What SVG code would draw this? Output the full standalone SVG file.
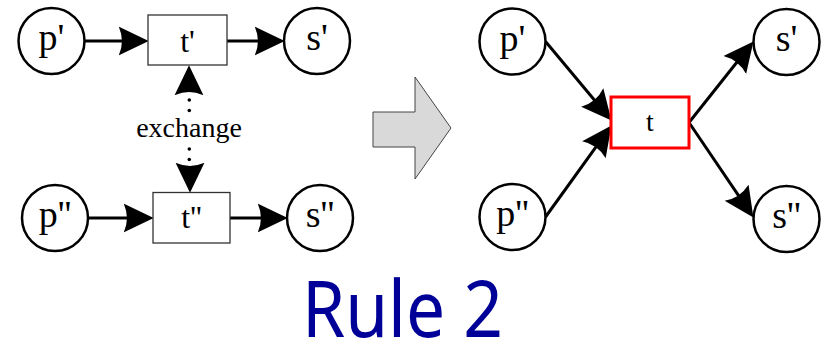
<svg xmlns="http://www.w3.org/2000/svg" width="827" height="346" viewBox="0 0 827 346">
<style>
.place{fill:#fff;stroke:#000;stroke-width:2.5}
.trans{fill:#fff;stroke:#333;stroke-width:1.3}
.transr{fill:#fff;stroke:#ff0000;stroke-width:3}
.lbl{font-family:"Liberation Serif","Times New Roman",serif;fill:#000;text-anchor:middle}
.pl{font-size:38px}
.tl{font-size:32px}
.arc{stroke:#000;stroke-width:3;fill:none}
.dot{fill:#000}
</style>
<defs>
<marker id="ah" markerUnits="userSpaceOnUse" markerWidth="30" markerHeight="30" viewBox="0 0 28 27" refX="18" refY="13.5" orient="auto">
<path d="M0,0 L28,13.5 L0,27 Q6,13.5 0,0 Z" fill="#000"/>
</marker>
</defs>
<g id="connectors">
<line class="arc" x1="84.5" y1="41" x2="138" y2="41" marker-end="url(#ah)"/>
<line class="arc" x1="227" y1="41" x2="274" y2="41" marker-end="url(#ah)"/>
<line class="arc" x1="88" y1="218" x2="143" y2="218" marker-end="url(#ah)"/>
<line class="arc" x1="230" y1="218" x2="277" y2="218" marker-end="url(#ah)"/>
<line class="arc" x1="189" y1="86" x2="189" y2="76" marker-end="url(#ah)"/>
<line class="arc" x1="190" y1="172" x2="190" y2="182" marker-end="url(#ah)"/>
<circle class="dot" cx="189.3" cy="100" r="1.8"/>
<circle class="dot" cx="189.3" cy="110.5" r="1.8"/>
<circle class="dot" cx="189.3" cy="149" r="1.8"/>
<circle class="dot" cx="189.3" cy="159.5" r="1.8"/>
<line class="arc" x1="545.5" y1="41.5" x2="604.6" y2="112.3" marker-end="url(#ah)"/>
<line class="arc" x1="545.5" y1="217" x2="605.2" y2="134.1" marker-end="url(#ah)"/>
<line class="arc" x1="689" y1="122.5" x2="746.8" y2="49.8" marker-end="url(#ah)"/>
<line class="arc" x1="689" y1="122.5" x2="747.4" y2="208.7" marker-end="url(#ah)"/>
</g>
<g id="p1"><circle class="place" cx="51.5" cy="41" r="33"/><text class="lbl pl" x="51.5" y="50">p'</text></g>
<g id="t1"><rect class="trans" x="148" y="15" width="79" height="50"/><text class="lbl tl" x="187.5" y="52">t'</text></g>
<g id="s1"><circle class="place" cx="317" cy="41" r="33"/><text class="lbl pl" x="317" y="50">s'</text></g>
<g id="p2"><circle class="place" cx="55" cy="218" r="33"/><text class="lbl pl" x="55" y="227">p''</text></g>
<g id="t2"><rect class="trans" x="153" y="192.5" width="77" height="50.5"/><text class="lbl tl" x="191.5" y="228">t''</text></g>
<g id="s2"><circle class="place" cx="320" cy="218" r="33"/><text class="lbl pl" x="320" y="227">s''</text></g>
<g id="exchange"><text class="lbl" style="font-size:28px" x="189" y="137">exchange</text></g>
<g id="bigarrow"><polygon points="373,112 415,112 415,77 451,128 415,179 415,147 373,147" fill="#d9d9d9" stroke="#444" stroke-width="1"/></g>
<g id="p1r"><circle class="place" cx="512.5" cy="41.5" r="33"/><text class="lbl pl" x="512.5" y="50.5">p'</text></g>
<g id="p2r"><circle class="place" cx="512.5" cy="217" r="33"/><text class="lbl pl" x="512.5" y="226">p''</text></g>
<g id="t"><rect class="transr" x="611" y="97" width="78" height="51"/><text class="lbl" style="font-size:28px" x="650" y="131">t</text></g>
<g id="s1r"><circle class="place" cx="786.5" cy="42" r="33"/><text class="lbl pl" x="786.5" y="51">s'</text></g>
<g id="s2r"><circle class="place" cx="786.5" cy="219" r="33"/><text class="lbl pl" x="786.5" y="228">s''</text></g>
<g id="title"><text x="402.5" y="337" font-family="'Noto Sans','DejaVu Sans',sans-serif" font-size="78" fill="#000099" text-anchor="middle" textLength="201" lengthAdjust="spacingAndGlyphs">Rule 2</text></g>
</svg>
